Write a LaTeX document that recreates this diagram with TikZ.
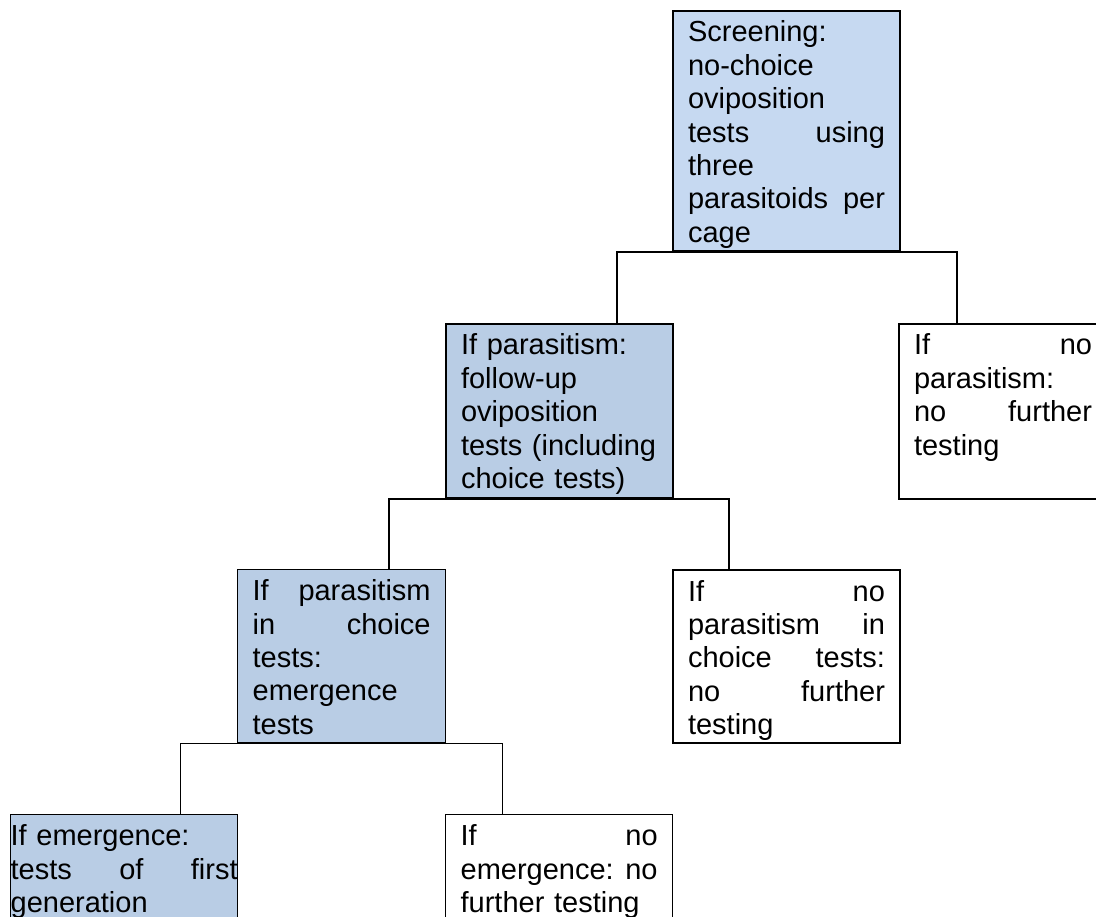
\documentclass[tikz,border=0pt]{standalone}
\usepackage{fontspec}
\setmainfont{Liberation Sans}

\definecolor{screenblue}{HTML}{C6D9F1}
\definecolor{passblue}{HTML}{B9CDE5}

\tikzset{
    stagebox/.style={draw, line width=2pt, anchor=north west, align=left,
        inner xsep=15pt, inner ysep=10pt, text width=197pt, text height=21pt,
        font=\fontsize{29pt}{33.4pt}\selectfont},
    thinbox/.style={stagebox, line width=1.3pt},
    narrowbox/.style={text width=178pt},
    split/.style={line width=2pt},
    thinsplit/.style={line width=1.3pt}
}

\begin{document}
\begin{tikzpicture}[x=1pt, y=-1pt]

    % Fix the canvas to the page size
    \useasboundingbox (0,0) rectangle (1096,917);
    \clip (0,0) rectangle (1096,917);

    % Level 1: screening
    \node[stagebox, fill=screenblue, text depth=199pt] (screen) at (672,10)
        {Screening:\\ no-choice\\ oviposition\\ tests\hfill using\\ three\\ parasitoids\hfill per\\ cage};

    % Level 2
    \node[stagebox, fill=passblue, text depth=133pt] (follow) at (445,323)
        {If parasitism:\\ follow-up\\ oviposition\\ tests (including\\ choice tests)};
    \node[stagebox, narrowbox, text depth=134pt] (nopara) at (898,323)
        {If\hfill no\\ parasitism:\\ no\hfill further\\ testing};

    % Level 3
    \node[thinbox, narrowbox, fill=passblue, text depth=132pt] (emerge) at (237,569)
        {If\hfill parasitism\\ in\hfill choice\\ tests:\\ emergence\\ tests};
    \node[stagebox, text depth=132pt] (nochoice) at (672,569)
        {If\hfill no\\ parasitism\hfill in\\ choice\hfill tests:\\ no\hfill further\\ testing};

    % Level 4 (runs off the bottom edge)
    \node[thinbox, fill=passblue, inner xsep=0pt, text width=227pt, text depth=90pt] (firstgen) at (10,814)
        {If emergence:\\ tests\hfill of\hfill first\\ generation};
    \node[thinbox, text depth=90pt] (noemerge) at (445,814)
        {If\hfill no\\ emergence:\hfill no\\ further testing};

    % Branch lines
    \draw[split] ([xshift=57pt]follow.north) |- (screen.south) -| ([xshift=-46pt]nopara.north);
    \draw[split] ([xshift=47pt]emerge.north) |- (follow.south) -| ([xshift=-57.5pt]nochoice.north);
    \draw[thinsplit] ([xshift=56.5pt]firstgen.north) |- (emerge.south) -| ([xshift=-56.5pt]noemerge.north);

\end{tikzpicture}
\end{document}
